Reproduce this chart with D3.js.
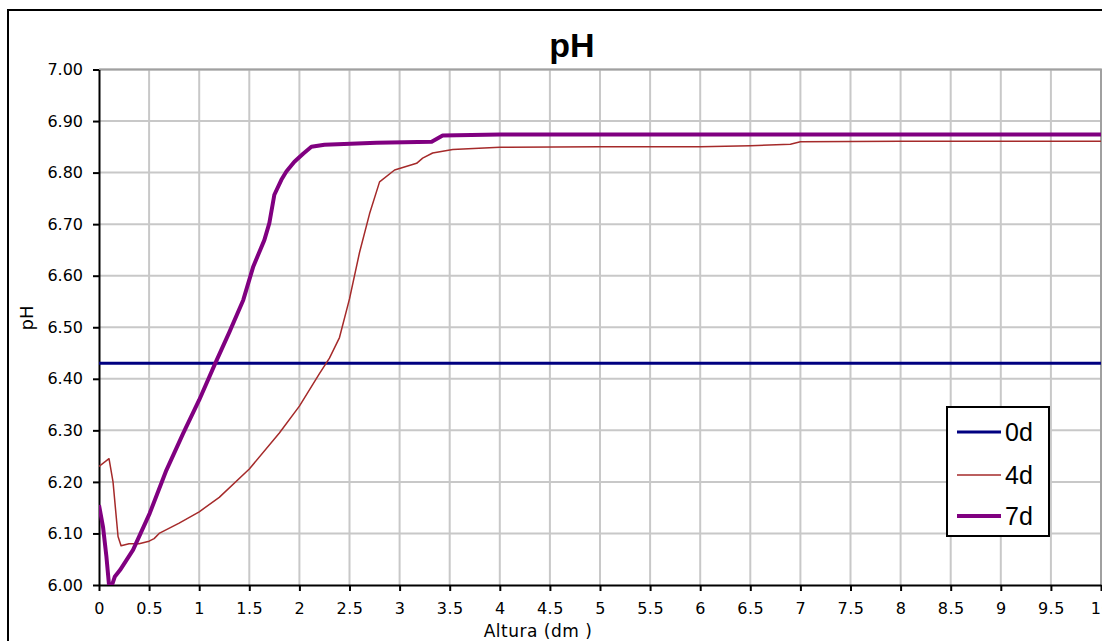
<!DOCTYPE html>
<html>
<head>
<meta charset="utf-8">
<script src="https://cdn.jsdelivr.net/npm/d3@7"></script>
<style>
  html, body { margin: 0; padding: 0; background: #fff; }
  svg { display: block; font-family: "Liberation Sans", Arial, sans-serif; }
</style>
</head>
<body>
<svg id="chart" width="1102" height="641"></svg>
<script>
// Height along the column (dm) and measured pH for each sampling day
const xTicks = [0, 0.5, 1, 1.5, 2, 2.5, 3, 3.5, 4, 4.5, 5, 5.5, 6, 6.5, 7, 7.5, 8, 8.5, 9, 9.5, 10];
const yTicks = [6.0, 6.1, 6.2, 6.3, 6.4, 6.5, 6.6, 6.7, 6.8, 6.9, 7.0];

const height0d = [0, 10];
const ph0d     = [6.43, 6.43];

const height4d = [0, 0.1, 0.14, 0.19, 0.22, 0.3, 0.4, 0.5, 0.55, 0.6, 0.8, 1.0, 1.2, 1.5, 1.8, 2.0, 2.2, 2.3,
                  2.4, 2.5, 2.6, 2.7, 2.8, 2.95, 3.17, 3.23, 3.33, 3.53, 4.0, 5.0, 6.0, 6.5, 6.9, 7.0, 8.0, 9.0, 10];
const ph4d     = [6.23, 6.245, 6.20, 6.094, 6.076, 6.08, 6.08, 6.085, 6.09, 6.10, 6.12, 6.142, 6.17, 6.225, 6.295,
                  6.347, 6.41, 6.44, 6.48, 6.555, 6.645, 6.72, 6.782, 6.805, 6.818, 6.828, 6.838, 6.845, 6.849,
                  6.85, 6.85, 6.852, 6.855, 6.86, 6.861, 6.861, 6.861];

const height7d = [0, 0.04, 0.074, 0.1, 0.115, 0.13, 0.157, 0.21, 0.34, 0.506, 0.673, 0.84, 1.0, 1.16, 1.3, 1.44,
                  1.54, 1.65, 1.70, 1.75, 1.82, 1.87, 1.95, 2.04, 2.12, 2.25, 2.77, 3.32, 3.43, 4.0, 10];
const ph7d     = [6.155, 6.113, 6.055, 6.0, 5.97, 6.0, 6.016, 6.029, 6.068, 6.139, 6.223, 6.294, 6.359, 6.43, 6.49,
                  6.553, 6.618, 6.669, 6.702, 6.757, 6.786, 6.802, 6.821, 6.837, 6.850, 6.854, 6.858, 6.860,
                  6.872, 6.874, 6.874];

const seriesNames  = ["0d", "4d", "7d"];
const seriesColors = ["#000080", "#a52a2a", "#800080"];
const seriesWidths = [3, 1.5, 4];

const series = [
  { name: seriesNames[0], xs: height0d, ys: ph0d },
  { name: seriesNames[1], xs: height4d, ys: ph4d },
  { name: seriesNames[2], xs: height7d, ys: ph7d }
].map((s, i) => ({ ...s, color: seriesColors[i], width: seriesWidths[i],
                   points: s.xs.map((x, j) => [x, s.ys[j]]) }));

const svg = d3.select("#chart");
const plot = { left: 99, right: 1101, top: 69.5, bottom: 585 };

const x = d3.scaleLinear().domain([0, 10]).range([plot.left, plot.right]);
const y = d3.scaleLinear().domain([6, 7]).range([plot.bottom, plot.top]);

const labelFont = "'DejaVu Sans', sans-serif";

// Outer chart frame
svg.append("rect")
  .attr("x", 8).attr("y", 10).attr("width", 1140).attr("height", 700)
  .attr("fill", "#fff").attr("stroke", "#000").attr("stroke-width", 2);

// Title
svg.append("text")
  .attr("x", 572).attr("y", 57)
  .attr("text-anchor", "middle")
  .attr("font-size", 34).attr("font-weight", "bold")
  .text("pH");

// Gridlines
const grid = svg.append("g").attr("stroke", "#c8c8c8").attr("stroke-width", 2);
grid.selectAll("line.v").data(xTicks.slice(1)).join("line")
  .attr("x1", d => x(d)).attr("x2", d => x(d))
  .attr("y1", plot.top).attr("y2", plot.bottom);
grid.selectAll("line.h").data(yTicks.slice(1)).join("line")
  .attr("x1", plot.left).attr("x2", plot.right)
  .attr("y1", d => y(d)).attr("y2", d => y(d));

// Plot area border (top / right)
svg.append("path")
  .attr("d", `M${plot.left},${plot.top}H${plot.right}V${plot.bottom}`)
  .attr("fill", "none").attr("stroke", "#a0a0a0").attr("stroke-width", 2);

// Axes
const yAxis = d3.axisLeft(y).tickValues(yTicks).tickFormat(d3.format(".2f"))
  .tickSize(6).tickSizeOuter(0).tickPadding(10);
const xAxis = d3.axisBottom(x).tickValues(xTicks).tickFormat(d => String(d))
  .tickSize(6).tickSizeOuter(0).tickPadding(12);

const gy = svg.append("g").attr("transform", `translate(${plot.left},0)`).call(yAxis);
const gx = svg.append("g").attr("transform", `translate(0,${plot.bottom})`).call(xAxis);
[gx, gy].forEach(g => {
  g.attr("font-family", labelFont).attr("font-size", 16);
  g.select(".domain").attr("stroke", "#000").attr("stroke-width", 2);
  g.selectAll(".tick line").attr("stroke", "#000").attr("stroke-width", 2);
  g.selectAll(".tick text").attr("fill", "#000");
});
gx.selectAll(".tick text").attr("letter-spacing", 0.5);

// Axis titles
svg.append("text")
  .attr("x", 538).attr("y", 637)
  .attr("text-anchor", "middle")
  .attr("font-family", labelFont)
  .attr("font-size", 17)
  .attr("letter-spacing", 0.5)
  .text("Altura (dm )");
svg.append("text")
  .attr("transform", "translate(33,318) rotate(-90)")
  .attr("text-anchor", "middle")
  .attr("font-family", labelFont)
  .attr("font-size", 18)
  .text("pH");

// Series lines, clipped to the plot area
svg.append("clipPath").attr("id", "plot-clip")
  .append("rect")
  .attr("x", plot.left).attr("y", plot.top)
  .attr("width", plot.right - plot.left).attr("height", plot.bottom - plot.top);

const line = d3.line().x(d => x(d[0])).y(d => y(d[1]));
svg.append("g").attr("clip-path", "url(#plot-clip)")
  .selectAll("path").data(series).join("path")
  .attr("d", d => line(d.points))
  .attr("fill", "none")
  .attr("stroke", d => d.color)
  .attr("stroke-width", d => d.width)
  .attr("stroke-linejoin", "round");

// Legend
const legend = svg.append("g");
legend.append("rect")
  .attr("x", 947).attr("y", 407).attr("width", 102).attr("height", 129)
  .attr("fill", "#fff").attr("stroke", "#000").attr("stroke-width", 2);
const rowY = [432, 475, 516];
const items = legend.selectAll("g.item").data(series).join("g")
  .attr("transform", (d, i) => `translate(0,${rowY[i]})`);
items.append("line")
  .attr("x1", 957).attr("x2", 1001)
  .attr("stroke", d => d.color).attr("stroke-width", d => d.width);
items.append("text")
  .attr("x", 1005).attr("y", 9)
  .attr("font-size", 25)
  .text(d => d.name);
</script>
</body>
</html>
